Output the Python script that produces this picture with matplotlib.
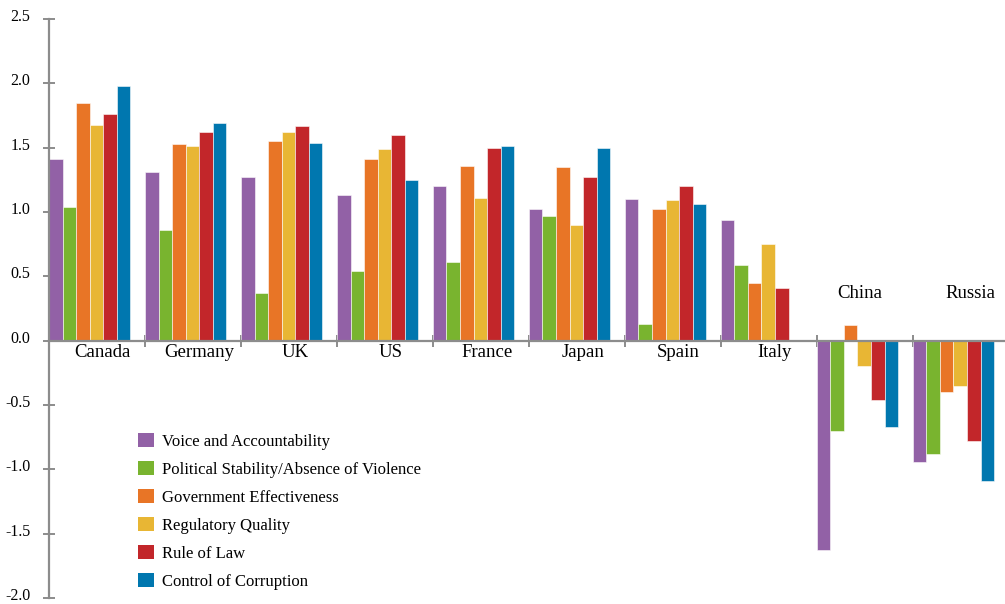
import numpy as np
import matplotlib
matplotlib.use("Agg")
import matplotlib.pyplot as plt
import matplotlib.transforms as mtransforms
from matplotlib.patches import Patch

# Worldwide governance indicators per country
countries = ["Canada", "Germany", "UK", "US", "France", "Japan",
             "Spain", "Italy", "China", "Russia"]
indicators = ["Voice and Accountability",
              "Political Stability/Absence of Violence",
              "Government Effectiveness",
              "Regulatory Quality",
              "Rule of Law",
              "Control of Corruption"]

voice = [1.41, 1.31, 1.27, 1.13, 1.20, 1.02, 1.10, 0.94, -1.63, -0.94]
stability = [1.04, 0.86, 0.37, 0.54, 0.61, 0.97, 0.13, 0.585, -0.70, -0.88]
effectiveness = [1.85, 1.53, 1.555, 1.41, 1.36, 1.35, 1.02, 0.445, 0.12, -0.40]
regulatory = [1.68, 1.51, 1.62, 1.49, 1.11, 0.90, 1.09, 0.755, -0.20, -0.35]
rule_of_law = [1.76, 1.62, 1.67, 1.595, 1.50, 1.27, 1.205, 0.41, -0.46, -0.78]
corruption = [1.98, 1.69, 1.54, 1.25, 1.51, 1.50, 1.06, 0.0, -0.67, -1.09]

series = [voice, stability, effectiveness, regulatory, rule_of_law, corruption]
colors = ["#9261a6", "#79b42f", "#e87526", "#e8b634", "#c2262a", "#0077af"]

plt.rcParams["font.family"] = ["Liberation Serif", "DejaVu Serif"]

fig = plt.figure(figsize=(10.05, 6.04), dpi=100)
ax = fig.add_axes([0.0488, 0.0099, 0.9512, 0.9586])

x = np.arange(len(countries))
w = 0.141
for j, (vals, c) in enumerate(zip(series, colors)):
    ax.bar(x + j * w + w / 2, vals, width=w, color=c,
           edgecolor=(1, 1, 1, 0.55), linewidth=0.7, zorder=2)

ax.set_xlim(0, 9.96)
ax.set_ylim(-2.0, 2.5)

# axes styling
grey = "#8c8c8c"
for s in ["top", "right"]:
    ax.spines[s].set_visible(False)
ax.spines["left"].set_color(grey)
ax.spines["left"].set_linewidth(1.6)
ax.spines["bottom"].set_position(("data", 0))
ax.spines["bottom"].set_color(grey)
ax.spines["bottom"].set_linewidth(1.6)
ax.spines["bottom"].set_zorder(3)

ax.set_yticks(np.arange(-2.0, 2.51, 0.5))
ax.set_yticklabels(["%.1f" % v for v in np.arange(-2.0, 2.51, 0.5)])
ax.tick_params(axis="y", direction="inout", length=9, width=1.4, color=grey,
               labelsize=11.5, pad=9)
ax.set_xticks(np.arange(1, 10))
ax.set_xticklabels([])
ax.tick_params(axis="x", direction="inout", length=8, width=1.4, color=grey)

# shift y tick labels slightly upward
offset = mtransforms.ScaledTranslation(0, 4 / 100, fig.dpi_scale_trans)
for lab in ax.get_yticklabels():
    lab.set_transform(lab.get_transform() + offset)

# country labels
for i, name in enumerate(countries):
    if min(s[i] for s in series) < 0:
        xpos = i + 0.45 if name == "China" else i + 0.6
        ax.text(xpos, 0.37, name, ha="center", va="center", fontsize=13.5)
    else:
        ax.text(i + 0.56, -0.095, name, ha="center", va="center", fontsize=13.5)

handles = [Patch(facecolor=c, edgecolor="none") for c in colors]
fig.legend(handles, indicators, loc="upper left",
           bbox_to_anchor=(123 / 1005, 1 - 418 / 604), frameon=False,
           fontsize=12, handlelength=0.95, handleheight=0.95,
           handletextpad=0.5, labelspacing=0.66)

fig.savefig("out.png", dpi=100)
